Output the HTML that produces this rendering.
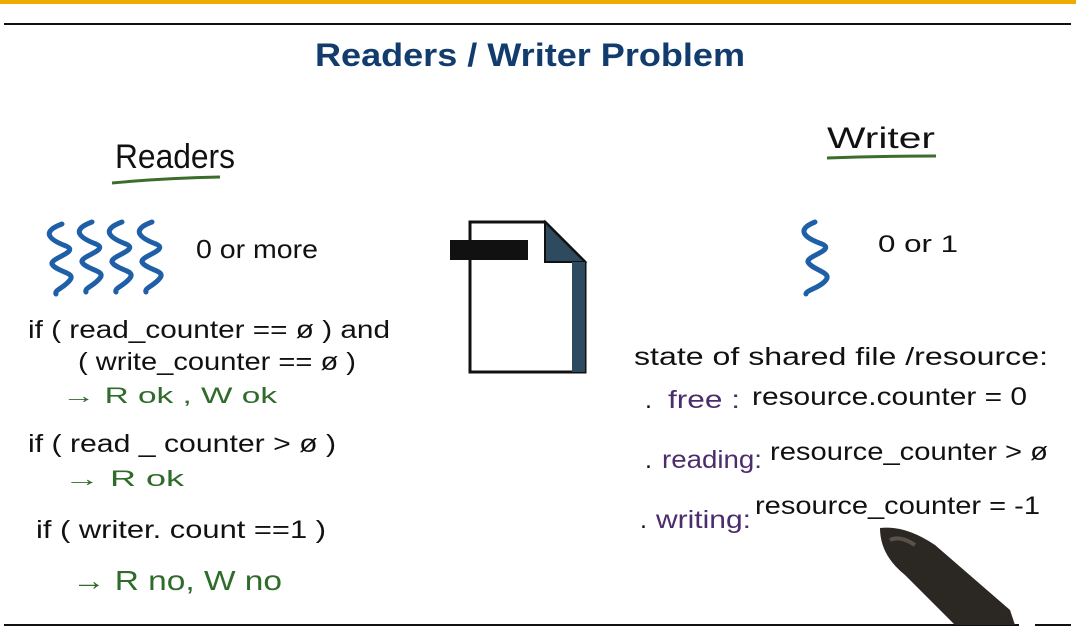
<!DOCTYPE html>
<html><head><meta charset="utf-8"><style>
html,body{margin:0;padding:0;background:#fff;}
svg{display:block}
text{font-family:"Liberation Sans","DejaVu Sans",sans-serif;}
</style></head><body>
<svg width="1076" height="627" viewBox="0 0 1076 627" xmlns="http://www.w3.org/2000/svg">
<rect x="0" y="0" width="1076" height="4" fill="#eeab00"/>
<rect x="4" y="23" width="1067" height="2" fill="#111"/>
<rect x="4" y="624" width="1015" height="2" fill="#111"/>
<rect x="1035" y="624" width="36" height="2" fill="#111"/>

<text x="530" y="66" text-anchor="middle" font-size="32" font-weight="bold" fill="#123c6e" textLength="430" lengthAdjust="spacingAndGlyphs">Readers / Writer Problem</text>

<text x="115" y="168" font-size="34" fill="#111" textLength="120" lengthAdjust="spacingAndGlyphs">Readers</text>
<path d="M112 183 Q165 178 220 177" stroke="#3b6e2a" stroke-width="3" fill="none"/>
<text x="827" y="148" font-size="30" fill="#111" textLength="108" lengthAdjust="spacingAndGlyphs">Writer</text>
<path d="M827 158 Q880 156 936 156" stroke="#3b6e2a" stroke-width="3" fill="none"/>

<g stroke="#1f5fa8" stroke-width="5" fill="none" stroke-linecap="round">
<path d="M62 224 C40 232 50 240 66 246 C80 252 50 258 52 264 C56 272 76 272 70 280 C64 288 54 290 56 294"/>
<path d="M92 222 C70 230 80 238 96 244 C110 250 80 256 82 262 C86 270 106 270 100 278 C94 286 84 288 86 292"/>
<path d="M122 222 C100 230 110 238 126 244 C140 250 110 256 112 262 C116 270 136 270 130 278 C124 286 114 288 116 292"/>
<path d="M152 222 C130 230 140 238 156 244 C170 250 140 256 142 262 C146 270 166 270 160 278 C154 286 144 288 146 292"/>
<path d="M815 222 C795 230 805 238 822 244 C836 250 806 256 808 262 C812 270 832 272 826 280 C820 288 806 290 806 294"/>
</g>
<text x="196" y="258" font-size="26" fill="#111" textLength="122" lengthAdjust="spacingAndGlyphs">0 or more</text>
<text x="878" y="252" font-size="24" fill="#111" textLength="80" lengthAdjust="spacingAndGlyphs">0 or 1</text>

<path d="M470 222 L545 222 L585 262 L585 372 L470 372 Z" fill="#fff" stroke="#111" stroke-width="3"/>
<path d="M545 222 L545 262 L585 262 Z" fill="#2e4a5e" stroke="#111" stroke-width="2"/>
<rect x="572" y="262" width="13" height="110" fill="#2e4a5e"/>
<rect x="450" y="240" width="78" height="20" fill="#111"/>

<g font-size="25" fill="#111" lengthAdjust="spacingAndGlyphs">
<text x="28" y="338" textLength="362" lengthAdjust="spacingAndGlyphs">if ( read_counter == ø )  and</text>
<text x="78" y="370" textLength="278" lengthAdjust="spacingAndGlyphs">( write_counter == ø )</text>
<text x="28" y="452" textLength="308" lengthAdjust="spacingAndGlyphs">if   ( read _ counter &gt; ø )</text>
<text x="36" y="538" textLength="290" lengthAdjust="spacingAndGlyphs">if  ( writer. count ==1 )</text>
</g>
<g font-size="22" fill="#2f6b2a">
<text x="62" y="403" textLength="215" lengthAdjust="spacingAndGlyphs">→   R ok ,  W ok</text>
<text x="64" y="486" textLength="120" lengthAdjust="spacingAndGlyphs">→   R ok</text>
<text x="72" y="590" font-size="28" textLength="210" lengthAdjust="spacingAndGlyphs">→  R no,  W no</text>
</g>

<g font-size="25" fill="#111">
<text x="634" y="365" textLength="414" lengthAdjust="spacingAndGlyphs">state of shared file /resource:</text>
<text x="645" y="408">.</text><text x="668" y="408" fill="#4b2d6b" textLength="72" lengthAdjust="spacingAndGlyphs">free :</text><text x="752" y="405" textLength="275" lengthAdjust="spacingAndGlyphs">resource.counter = 0</text>
<text x="645" y="468">.</text><text x="662" y="468" fill="#4b2d6b" textLength="100" lengthAdjust="spacingAndGlyphs">reading:</text><text x="770" y="460" textLength="278" lengthAdjust="spacingAndGlyphs">resource_counter &gt; ø</text>
<text x="640" y="528">.</text><text x="656" y="528" fill="#4b2d6b" textLength="95" lengthAdjust="spacingAndGlyphs">writing:</text><text x="755" y="514" textLength="285" lengthAdjust="spacingAndGlyphs">resource_counter = -1</text>
</g>

<path d="M880 528 Q905 525 935 545 L1010 610 L1015 625 L955 625 L905 575 Q880 555 880 528 Z" fill="#2b2722"/>
<path d="M890 540 Q900 535 915 545" stroke="#5a5248" stroke-width="4" fill="none"/>
</svg>
</body></html>
